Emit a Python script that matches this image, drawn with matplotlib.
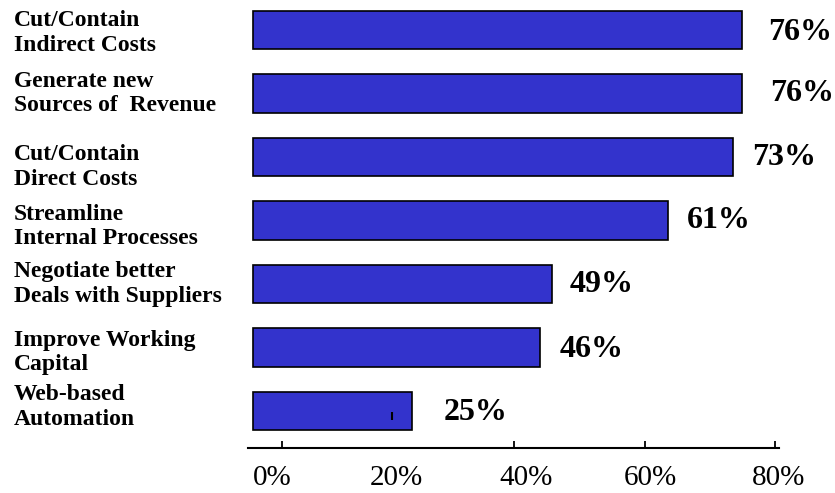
import matplotlib
matplotlib.use("Agg")
import matplotlib.pyplot as plt
from matplotlib.transforms import ScaledTranslation

# data
categories = [
    "Cut/Contain\nIndirect Costs",
    "Generate new\nSources of  Revenue",
    "Cut/Contain\nDirect Costs",
    "Streamline\nInternal Processes",
    "Negotiate better\nDeals with Suppliers",
    "Improve Working\nCapital",
    "Web-based\nAutomation",
]
bar_values = [74.9, 74.9, 73.6, 63.6, 45.8, 44.0, 24.4]   # bar lengths on the axis scale
value_labels = ["76%", "76%", "73%", "61%", "49%", "46%", "25%"]
tick_values = [0, 20, 40, 60, 80]
tick_labels = ["0%", "20%", "40%", "60%", "80%"]

# small per-row nudges (pixels) so the text sits like in the original
label_gap = [26, 28, 19, 19, 18, 19, 31]
value_dy = [-3, 0, -1, 0, -1, -2, -2]
cat_dy = [-3, 0, -10, -6, 0, -5, 4]
tick_dx = [19, 13, 12, 6, 3]

plt.rcParams['font.family'] = ['Liberation Serif', 'DejaVu Serif']

fig = plt.figure(figsize=(8.35, 4.93), dpi=100)
ax = fig.add_axes([248 / 835, 45 / 493, 531 / 835, 448 / 493])

ypos = list(range(len(categories)))
ax.barh(ypos, bar_values, height=0.61, color="#3333cc",
        edgecolor="black", linewidth=1.2)

ax.set_xlim(-0.77, 80.6)
ax.set_ylim(6.583, -0.472)

for sp in ["top", "right", "left"]:
    ax.spines[sp].set_visible(False)
ax.spines["bottom"].set_linewidth(1.5)
ax.set_yticks([])

ax.set_xticks(tick_values)
ax.set_xticklabels(tick_labels, fontsize=21)
ax.tick_params(axis="x", which="major", length=0, pad=12)
for lab, dx in zip(ax.get_xticklabels(), tick_dx):
    lab.set_transform(lab.get_transform() + ScaledTranslation(dx / 100, 0, fig.dpi_scale_trans))

# the odd tick marks of the original picture
ax.xaxis.remove_overlapping_locs = False
ax.set_xticks([4.4, 40, 60, 80], minor=True)
ax.tick_params(axis="x", which="minor", direction="in", length=5, width=1.3)
ax.vlines(21.3, 6.02, 6.14, color="black", linewidth=1.5)

for i, (v, t) in enumerate(zip(bar_values, value_labels)):
    ax.annotate(t, xy=(v, i), xytext=(label_gap[i], value_dy[i]),
                textcoords="offset pixels", ha="left", va="center",
                fontsize=23, fontweight="bold")

for i, c in enumerate(categories):
    ax.annotate(c, xy=(14 / 835, i), xycoords=("figure fraction", "data"),
                xytext=(0, cat_dy[i]), textcoords="offset pixels",
                ha="left", va="center",
                fontsize=17, fontweight="bold", linespacing=1.2)

fig.savefig("out.png", dpi=100)
